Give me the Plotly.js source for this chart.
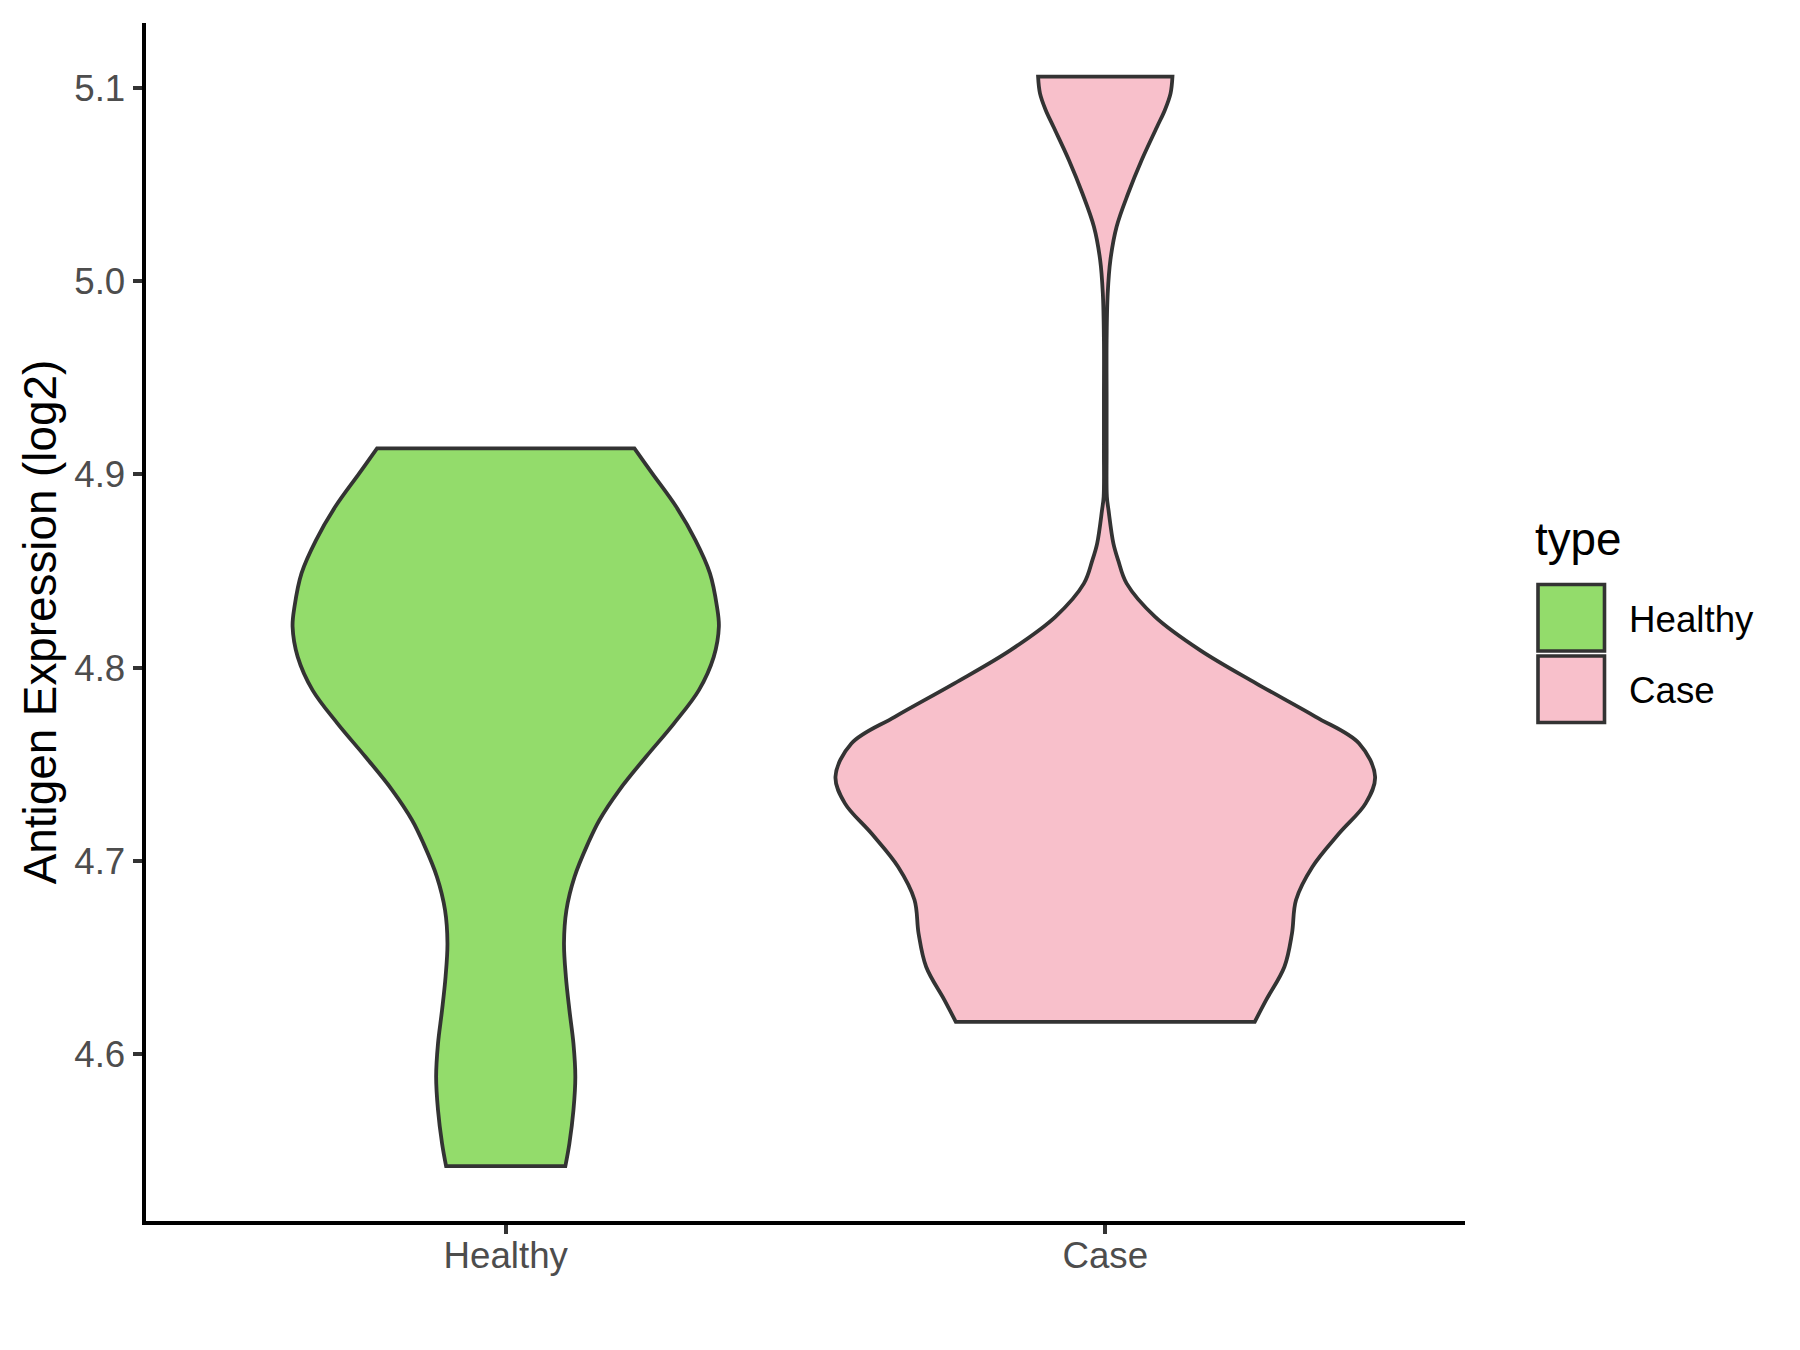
<!DOCTYPE html>
<html><head><meta charset="utf-8">
<script src="https://cdn.plot.ly/plotly-3.0.1.min.js"></script>
<style>html,body{margin:0;padding:0;background:#fff}</style>
</head><body><div id="chart" style="width:1800px;height:1350px"></div>
<script>
// ---- data ----
const categories = ['Healthy', 'Case'];

// density profile of each violin (relative density, Case maximum = 1)
const healthyY = [4.9134, 4.9005, 4.8832, 4.8660, 4.8488, 4.8315, 4.8212, 4.8056, 4.7884, 4.7712, 4.7539, 4.7367, 4.7211, 4.7091, 4.6918, 4.6746, 4.6574, 4.6401, 4.6229, 4.6056, 4.5884, 4.5711, 4.5539, 4.5422];
const healthyDensity = [0.477, 0.543, 0.632, 0.703, 0.757, 0.783, 0.790, 0.771, 0.716, 0.624, 0.520, 0.421, 0.347, 0.305, 0.255, 0.225, 0.216, 0.223, 0.236, 0.251, 0.258, 0.251, 0.236, 0.221];

const caseY = [5.1057, 5.0971, 5.0885, 5.0798, 5.0626, 5.0454, 5.0281, 5.0109, 4.9936, 4.9694, 4.9384, 4.9125, 4.8884, 4.8815, 4.8643, 4.8555, 4.8436, 4.8263, 4.8091, 4.7919, 4.7746, 4.7608, 4.7436, 4.7298, 4.7143, 4.6970, 4.6798, 4.6625, 4.6453, 4.6280, 4.6168];
const caseDensity = [0.249, 0.242, 0.221, 0.192, 0.135, 0.085, 0.042, 0.019, 0.009, 0.005, 0.005, 0.005, 0.006, 0.012, 0.030, 0.048, 0.079, 0.185, 0.351, 0.559, 0.780, 0.941, 1.000, 0.965, 0.867, 0.768, 0.707, 0.692, 0.664, 0.596, 0.554];

const yTickVals = [4.6, 4.7, 4.8, 4.9, 5.0, 5.1];
const yTickText = ['4.6', '4.7', '4.8', '4.9', '5.0', '5.1'];

// ---- styling ----
const fillColors = ['#93DC6B', '#F8C0CB'];
const outline = '#333333';
const maxHalfWidth = 0.45;
const FONT = 'Liberation Sans, Arial, sans-serif';

// outline path: right side top->bottom, flat bottom, left side bottom->top, flat top.
// corner vertices are repeated so the spline keeps them sharp.
function violinTrace(name, pos, ys, dens, color) {
  const n = ys.length;
  const xs = [], yy = [];
  const add = (i, sign) => { xs.push(pos + sign * dens[i] * maxHalfWidth); yy.push(ys[i]); };
  add(0, 1);
  for (let i = 0; i < n; i++) add(i, 1);
  add(n - 1, 1);
  add(n - 1, -1);
  for (let i = n - 1; i >= 0; i--) add(i, -1);
  add(0, -1);
  add(0, 1);
  return {
    type: 'scatter', mode: 'lines', x: xs, y: yy, fill: 'toself', fillcolor: color,
    line: { color: outline, width: 3.8, shape: 'spline', smoothing: 1, simplify: false },
    name: name, showlegend: false, hoverinfo: 'name'
  };
}

const traces = [
  violinTrace(categories[0], 1, healthyY, healthyDensity, fillColors[0]),
  violinTrace(categories[1], 2, caseY, caseDensity, fillColors[1])
];

// plot area in pixels
const L = 146, R = 1465, T = 23, B = 1221;
const px = v => (v - L) / (R - L);
const py = v => (B - v) / (B - T);

const shapes = [], annotations = [];
annotations.push({ xref: 'paper', yref: 'paper', x: px(1533), y: py(539), xanchor: 'left', yanchor: 'middle',
  text: 'type', showarrow: false, font: { family: FONT, size: 45.8, color: '#000' } });
const keyTops = [584.5, 656];
const labelY = [619, 690];
categories.forEach((c, i) => {
  shapes.push({ type: 'rect', xref: 'paper', yref: 'paper', x0: px(1538), x1: px(1604.5), y0: py(keyTops[i]), y1: py(keyTops[i] + 66.5),
    fillcolor: fillColors[i], line: { color: outline, width: 3.6 } });
  annotations.push({ xref: 'paper', yref: 'paper', x: px(1627), y: py(labelY[i]), xanchor: 'left', yanchor: 'middle',
    text: c, showarrow: false, font: { family: FONT, size: 36.7, color: '#000' } });
});

const layout = {
  width: 1800, height: 1350,
  margin: { l: L, r: 1800 - R, t: T, b: 1350 - B },
  paper_bgcolor: '#fff', plot_bgcolor: '#fff',
  font: { family: FONT },
  showlegend: false,
  xaxis: {
    range: [0.4, 2.6], tickvals: [1, 2], ticktext: categories,
    showline: true, linecolor: '#000', linewidth: 4.4, mirror: false,
    ticks: 'outside', ticklen: 9, tickwidth: 4.2, tickcolor: '#333',
    tickfont: { family: FONT, size: 36.7, color: '#4D4D4D' }, ticklabelstandoff: -10,
    showgrid: false, zeroline: false, fixedrange: true
  },
  yaxis: {
    range: [4.51377, 5.13347], tickvals: yTickVals, ticktext: yTickText,
    showline: true, linecolor: '#000', linewidth: 4.4,
    ticks: 'outside', ticklen: 9, tickwidth: 4.2, tickcolor: '#333',
    tickfont: { family: FONT, size: 36.7, color: '#4D4D4D' },
    showgrid: false, zeroline: false, fixedrange: true,
    title: { text: 'Antigen Expression (log2)', font: { family: FONT, size: 45.8, color: '#000' }, standoff: 4 }
  },
  shapes: shapes, annotations: annotations
};

Plotly.newPlot('chart', traces, layout, { displayModeBar: false, staticPlot: true });
</script>
</body></html>
